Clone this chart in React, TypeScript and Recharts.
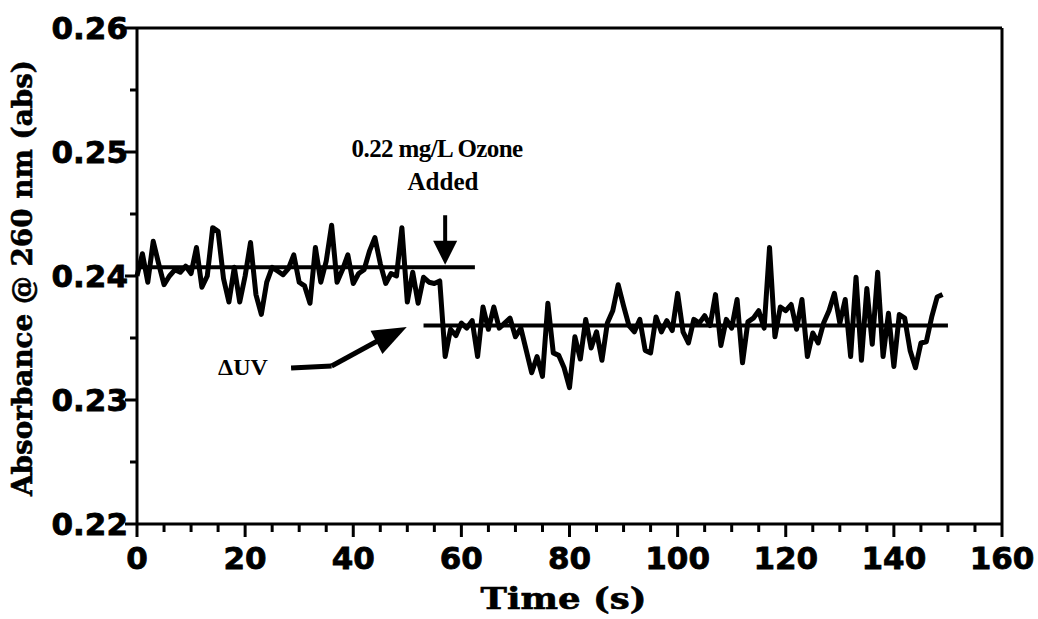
import { LineChart, Line, XAxis, YAxis, ReferenceLine, ReferenceDot } from 'recharts';

// absorbance read every second, t = 0 .. 149 s
const SAMPLE_STEP = 1;
const ABSORBANCE = [
  0.2400, 0.2418, 0.2395, 0.2428, 0.2410, 0.2393, 0.2400, 0.2405, 0.2403, 0.2408,
  0.2402, 0.2423, 0.2391, 0.2400, 0.2439, 0.2436, 0.2398, 0.2379, 0.2407, 0.2379,
  0.2400, 0.2427, 0.2385, 0.2369, 0.2395, 0.2407, 0.2404, 0.2401, 0.2406, 0.2417,
  0.2395, 0.2392, 0.2378, 0.2423, 0.2395, 0.2412, 0.2441, 0.2395, 0.2405, 0.2417,
  0.2394, 0.2402, 0.2405, 0.2420, 0.2431, 0.2410, 0.2394, 0.2402, 0.2400, 0.2439,
  0.2379, 0.2403, 0.2378, 0.2399, 0.2395, 0.2394, 0.2396, 0.2335, 0.2357, 0.2352,
  0.2362, 0.2358, 0.2364, 0.2335, 0.2375, 0.2357, 0.2375, 0.2358, 0.2362, 0.2366,
  0.2351, 0.2358, 0.2340, 0.2322, 0.2335, 0.2319, 0.2378, 0.2338, 0.2336, 0.2326,
  0.2310, 0.2351, 0.2333, 0.2365, 0.2342, 0.2355, 0.2332, 0.2362, 0.2372, 0.2393,
  0.2376, 0.2360, 0.2355, 0.2365, 0.2340, 0.2338, 0.2367, 0.2355, 0.2364, 0.2356,
  0.2386, 0.2355, 0.2346, 0.2365, 0.2362, 0.2368, 0.2360, 0.2385, 0.2344, 0.2365,
  0.2358, 0.2381, 0.2330, 0.2363, 0.2366, 0.2372, 0.2358, 0.2423, 0.2351, 0.2375,
  0.2372, 0.2377, 0.2357, 0.2381, 0.2335, 0.2354, 0.2346, 0.2362, 0.2372, 0.2386,
  0.2362, 0.2381, 0.2335, 0.2399, 0.2332, 0.2390, 0.2345, 0.2403, 0.2335, 0.2370,
  0.2327, 0.2369, 0.2366, 0.2340, 0.2326, 0.2346, 0.2347, 0.2367, 0.2383, 0.2385,
];

// level before / after the ozone dose
const BEFORE_LEVEL = { from: 0, to: 62.5, value: 0.2407 };
const AFTER_LEVEL = { from: 53, to: 150, value: 0.2360 };

const X_TICKS = [0, 5, 10, 15, 20, 25, 30, 35, 40, 45, 50, 55, 60, 65, 70, 75, 80, 85, 90, 95, 100, 105, 110, 115, 120, 125, 130, 135, 140, 145, 150, 155, 160];
const Y_TICKS = [0.22, 0.225, 0.23, 0.235, 0.24, 0.245, 0.25, 0.255, 0.26];

const OZONE_TIME = 57;
const OZONE_TEXT = { time: 55.5, value: 0.2503 };
const ADDED_TEXT = { time: 56.6, value: 0.2476 };
const DUV_TEXT = { time: 19.6, value: 0.2327 };
const DUV_ARROW = [
  { time: 28.5, value: 0.23258 },
  { time: 36.0, value: 0.23274 },
  { time: 45.5, value: 0.2350 },
];
const DUV_TIP = { time: 49.9, value: 0.23589 };

const data = ABSORBANCE.map((v, i) => ({ time: i * SAMPLE_STEP, abs: v }));

const TICK_FONT = 'DejaVu Sans, sans-serif';
const SERIF = 'DejaVu Serif, serif';
const NOTE_FONT = 'Liberation Serif, serif';

function XTick({ x, y, payload }: any) {
  const major = payload.value % 20 === 0;
  return (
    <g>
      <line x1={x} x2={x} y1={y} y2={y + (major ? 13 : 8)} stroke="#000" strokeWidth={3} />
      {major && (
        <text x={x} y={y + 34} textAnchor="middle" dominantBaseline="central"
          fontFamily={TICK_FONT} fontWeight="bold" fontSize={31} fill="#000" stroke="#000" strokeWidth={0.8}>
          {payload.value}
        </text>
      )}
    </g>
  );
}

function YTick({ x, y, payload }: any) {
  const major = Math.round(payload.value * 1000) % 10 === 0;
  return (
    <g>
      <line x1={x} x2={x - (major ? 12 : 7)} y1={y} y2={y} stroke="#000" strokeWidth={3} />
      {major && (
        <text x={x - 9} y={y} textAnchor="end" dominantBaseline="central"
          fontFamily={TICK_FONT} fontWeight="bold" fontSize={31} fill="#000" stroke="#000" strokeWidth={0.8}>
          {payload.value.toFixed(2)}
        </text>
      )}
    </g>
  );
}

export default function App() {
  return (
    <div style={{ position: 'absolute', left: 0, top: 0, background: '#fff' }}>
      <LineChart width={1038} height={619} data={data}
        margin={{ top: 28, right: 36, bottom: 0, left: 0 }}>
        <XAxis
          dataKey="time" type="number" domain={[0, 160]} ticks={X_TICKS} interval={0}
          height={95} tickSize={0} tickMargin={0} tickLine={false}
          axisLine={{ stroke: '#000', strokeWidth: 3 }} tick={<XTick />}
          label={{
            content: ({ viewBox }: any) => (
              <text x={viewBox.x + viewBox.width / 2 - 6} y={viewBox.y + 85} textAnchor="middle"
                fontFamily={SERIF} fontWeight="bold" fontSize={29} textLength={166}
                lengthAdjust="spacingAndGlyphs" fill="#000" stroke="#000" strokeWidth={0.6}>
                Time (s)
              </text>
            ),
          }}
        />
        <YAxis
          type="number" domain={[0.22, 0.26]} ticks={Y_TICKS} interval={0} width={137}
          tickSize={0} tickMargin={0} tickLine={false} allowDataOverflow
          axisLine={{ stroke: '#000', strokeWidth: 3 }} tick={<YTick />}
          label={{
            content: ({ viewBox }: any) => {
              const cy = viewBox.y + viewBox.height / 2 + 2;
              return (
                <text x={22} y={cy} transform={`rotate(-90 22 ${cy})`} textAnchor="middle"
                  dominantBaseline="central" fontFamily={SERIF} fontWeight="bold" fontSize={27}
                  textLength={436} lengthAdjust="spacingAndGlyphs" fill="#000" stroke="#000" strokeWidth={0.6}>
                  Absorbance @ 260 nm (abs)
                </text>
              );
            },
          }}
        />

        {/* frame top and right */}
        <ReferenceLine y={0.26} stroke="#000" strokeWidth={3} />
        <ReferenceLine x={160} stroke="#000" strokeWidth={3} />

        {/* mean levels */}
        <ReferenceLine
          segment={[{ x: BEFORE_LEVEL.from, y: BEFORE_LEVEL.value }, { x: BEFORE_LEVEL.to, y: BEFORE_LEVEL.value }]}
          stroke="#000" strokeWidth={4}
        />
        <ReferenceLine
          segment={[{ x: AFTER_LEVEL.from, y: AFTER_LEVEL.value }, { x: AFTER_LEVEL.to, y: AFTER_LEVEL.value }]}
          stroke="#000" strokeWidth={4}
        />

        <Line type="linear" dataKey="abs" stroke="#000" strokeWidth={5} dot={false}
          strokeLinejoin="round" isAnimationActive={false} />

        {/* ozone dose note */}
        <ReferenceDot x={OZONE_TEXT.time} y={OZONE_TEXT.value} r={0}
          shape={(p: any) => (
            <text x={p.cx} y={p.cy} textAnchor="middle" dominantBaseline="central"
              fontFamily={NOTE_FONT} fontWeight="bold" fontSize={25} letterSpacing={-0.6} fill="#000">
              0.22 mg/L Ozone
            </text>
          )}
        />
        <ReferenceDot x={ADDED_TEXT.time} y={ADDED_TEXT.value} r={0}
          shape={(p: any) => (
            <text x={p.cx} y={p.cy} textAnchor="middle" dominantBaseline="central"
              fontFamily={NOTE_FONT} fontWeight="bold" fontSize={25} fill="#000">
              Added
            </text>
          )}
        />
        <ReferenceLine segment={[{ x: OZONE_TIME, y: 0.2449 }, { x: OZONE_TIME, y: 0.2426 }]}
          stroke="#000" strokeWidth={4} />
        <ReferenceDot x={OZONE_TIME} y={0.2409} r={0}
          shape={(p: any) => (
            <path d={`M${p.cx - 12},${p.cy - 24} L${p.cx + 12},${p.cy - 24} L${p.cx},${p.cy} Z`} fill="#000" />
          )}
        />

        {/* delta UV note */}
        <ReferenceDot x={DUV_TEXT.time} y={DUV_TEXT.value} r={0}
          shape={(p: any) => (
            <text x={p.cx} y={p.cy} textAnchor="middle" dominantBaseline="central"
              fontFamily={NOTE_FONT} fontWeight="bold" fontSize={24} fill="#000">
              ΔUV
            </text>
          )}
        />
        <ReferenceLine segment={[{ x: DUV_ARROW[0].time, y: DUV_ARROW[0].value }, { x: DUV_ARROW[1].time, y: DUV_ARROW[1].value }]}
          stroke="#000" strokeWidth={5} />
        <ReferenceLine segment={[{ x: DUV_ARROW[1].time, y: DUV_ARROW[1].value }, { x: DUV_ARROW[2].time, y: DUV_ARROW[2].value }]}
          stroke="#000" strokeWidth={5} />
        <ReferenceDot x={DUV_TIP.time} y={DUV_TIP.value} r={0}
          shape={(p: any) => (
            <path
              d={`M${p.cx},${p.cy} L${p.cx - 34},${p.cy - 13} L${p.cx - 34},${p.cy + 13} Z`}
              transform={`rotate(-27 ${p.cx} ${p.cy})`}
              fill="#000"
            />
          )}
        />
      </LineChart>
    </div>
  );
}
